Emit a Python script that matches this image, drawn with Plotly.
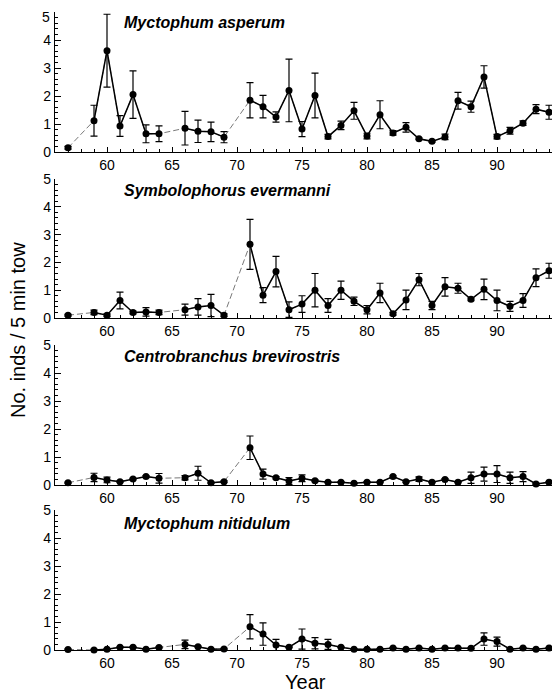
import plotly.graph_objects as go

years = [57, 59, 60, 61, 62, 63, 64, 66, 67, 68, 69, 71, 72, 73, 74, 75, 76, 77, 78, 79,
         80, 81, 82, 83, 84, 85, 86, 87, 88, 89, 90, 91, 92, 93, 94]

titles = ["Myctophum asperum", "Symbolophorus evermanni",
          "Centrobranchus brevirostris", "Myctophum nitidulum"]

y_ticks = [0, 1, 2, 3, 4, 5]
x_ticks = [60, 65, 70, 75, 80, 85, 90]

asperum = [0.15, 1.12, 3.62, 0.93, 2.05, 0.65, 0.65, 0.85, 0.74, 0.72, 0.53, 1.85, 1.62, 1.25,
           2.2, 0.82, 2.02, 0.55, 0.95, 1.47, 0.57, 1.33, 0.68, 0.88, 0.47, 0.38, 0.54, 1.83,
           1.62, 2.68, 0.55, 0.76, 1.03, 1.53, 1.42]
asperum_err = [0.05, 0.55, 1.3, 0.37, 0.85, 0.32, 0.28, 0.6, 0.4, 0.35, 0.2, 0.63, 0.4, 0.18,
               1.12, 0.27, 0.8, 0.08, 0.15, 0.3, 0.1, 0.5, 0.08, 0.17, 0.03, 0.03, 0.1, 0.3,
               0.2, 0.4, 0.08, 0.12, 0.08, 0.16, 0.25]

evermanni = [0.1, 0.2, 0.1, 0.63, 0.2, 0.22, 0.2, 0.3, 0.4, 0.45, 0.1, 2.65, 0.82, 1.67, 0.3,
             0.5, 1.0, 0.45, 1.0, 0.6, 0.3, 0.9, 0.15, 0.65, 1.38, 0.45, 1.12, 1.07, 0.67,
             1.03, 0.63, 0.42, 0.63, 1.45, 1.7]
evermanni_err = [0.03, 0.08, 0.05, 0.3, 0.05, 0.15, 0.08, 0.2, 0.3, 0.4, 0.05, 0.9, 0.27, 0.55,
                 0.28, 0.3, 0.6, 0.25, 0.33, 0.15, 0.15, 0.35, 0.05, 0.35, 0.22, 0.15, 0.33,
                 0.18, 0.05, 0.37, 0.37, 0.18, 0.25, 0.32, 0.27]

brevirostris = [0.08, 0.27, 0.18, 0.12, 0.21, 0.3, 0.24, 0.26, 0.42, 0.08, 0.12, 1.33, 0.39,
                0.26, 0.14, 0.24, 0.15, 0.1, 0.1, 0.06, 0.1, 0.1, 0.3, 0.12, 0.21, 0.1, 0.2,
                0.1, 0.26, 0.39, 0.39, 0.26, 0.3, 0.04, 0.1]
brevirostris_err = [0.02, 0.15, 0.1, 0.03, 0.03, 0.04, 0.17, 0.08, 0.25, 0.02, 0.03, 0.42,
                    0.18, 0.04, 0.12, 0.12, 0.03, 0.02, 0.02, 0.02, 0.02, 0.02, 0.03, 0.03,
                    0.08, 0.02, 0.03, 0.02, 0.2, 0.25, 0.3, 0.2, 0.18, 0.02, 0.02]

nitidulum = [0.02, 0.0, 0.03, 0.1, 0.1, 0.03, 0.09, 0.2, 0.12, 0.03, 0.04, 0.83, 0.57, 0.18,
             0.1, 0.39, 0.24, 0.2, 0.1, 0.03, 0.03, 0.03, 0.07, 0.03, 0.07, 0.03, 0.07, 0.07,
             0.06, 0.39, 0.3, 0.03, 0.07, 0.03, 0.07]
nitidulum_err = [0.02, 0.02, 0.02, 0.02, 0.02, 0.02, 0.02, 0.15, 0.02, 0.02, 0.02, 0.43, 0.4,
                 0.2, 0.02, 0.36, 0.2, 0.18, 0.02, 0.02, 0.02, 0.02, 0.02, 0.02, 0.02, 0.02,
                 0.02, 0.02, 0.02, 0.22, 0.16, 0.02, 0.02, 0.02, 0.02]

series = [(asperum, asperum_err), (evermanni, evermanni_err),
          (brevirostris, brevirostris_err), (nitidulum, nitidulum_err)]

# figure is placed by the page with an 8px body margin -> size it to fit the window
W, H, OFF = 544, 684, 8


def px_x(p):
    return (p - OFF) / W


def px_y(p):
    return 1 - (p - OFF) / H


# panel vertical extents in screen pixels (top, bottom)
panel_px = [(12, 152), (179, 318), (345, 485), (510, 650)]
domains = [(px_y(b), px_y(t)) for t, b in panel_px]
title_px = [22, 190, 357, 523]

FONT = "Liberation Sans, Arial, Helvetica, sans-serif"

fig = go.Figure()


def with_gaps(xs, ys):
    gx, gy = [], []
    for i, (x, y) in enumerate(zip(xs, ys)):
        if i > 0 and x - xs[i - 1] > 1:
            gx.append(None)
            gy.append(None)
        gx.append(x)
        gy.append(y)
    return gx, gy


for i, (vals, errs) in enumerate(series):
    xa = "x" if i == 0 else f"x{i+1}"
    ya = "y" if i == 0 else f"y{i+1}"
    # dashed connector across missing years
    fig.add_trace(go.Scatter(x=years, y=vals, mode="lines", xaxis=xa, yaxis=ya,
                             line=dict(color="#555555", width=0.8, dash="6px,3px"),
                             showlegend=False, hoverinfo="skip", cliponaxis=False))
    gx, gy = with_gaps(years, vals)
    fig.add_trace(go.Scatter(x=gx, y=gy, mode="lines", xaxis=xa, yaxis=ya,
                             line=dict(color="black", width=1.5),
                             connectgaps=False, showlegend=False, cliponaxis=False))
    fig.add_trace(go.Scatter(x=years, y=vals, mode="markers", xaxis=xa, yaxis=ya,
                             marker=dict(color="black", size=7),
                             error_y=dict(type="data", array=errs, visible=True,
                                          color="black", thickness=1.2, width=3.5),
                             showlegend=False, cliponaxis=False))

layout = dict(
    width=W, height=H,
    margin=dict(l=0, r=0, t=0, b=0),
    paper_bgcolor="white", plot_bgcolor="white",
    font=dict(family=FONT, size=14, color="black"),
    showlegend=False,
)

# x axis: 60 at screen px 107, 13 px per year; right edge of figure at screen 552
x_left = 60 - (107 - 55) / 13
x_right = 60 + (OFF + W - 107) / 13

for i in range(4):
    xk = "xaxis" if i == 0 else f"xaxis{i+1}"
    yk = "yaxis" if i == 0 else f"yaxis{i+1}"
    ya = "y" if i == 0 else f"y{i+1}"
    xa = "x" if i == 0 else f"x{i+1}"
    # top panel: the "5" label sits at the very top edge, drawn as annotation below
    ytext = [str(v) if not (i == 0 and v == y_ticks[-1]) else "" for v in y_ticks]
    layout[xk] = dict(
        domain=[px_x(55), 1.0], range=[x_left, x_right], anchor=ya, automargin=False,
        showline=True, linecolor="black", linewidth=1.2, showgrid=False, zeroline=False,
        ticks="inside", ticklen=5, tickcolor="black", tickwidth=1,
        tickvals=x_ticks, ticklabeloverflow="allow",
        minor=dict(ticks="inside", ticklen=3, tickcolor="black", dtick=1, tick0=56, showgrid=False),
        tickfont=dict(family=FONT, size=14, color="black"),
    )
    layout[yk] = dict(
        domain=list(domains[i]), range=[0, 5], anchor=xa, automargin=False,
        showline=True, linecolor="black", linewidth=1.2, showgrid=False, zeroline=False,
        ticks="inside", ticklen=6, tickcolor="black", tickwidth=1,
        tickvals=y_ticks, ticktext=ytext, ticklabeloverflow="allow",
        minor=dict(ticks="inside", ticklen=3, tickcolor="black", dtick=0.2, tick0=0, showgrid=False),
        tickfont=dict(family=FONT, size=14, color="black"),
    )

annotations = []
annotations.append(dict(text=str(y_ticks[-1]), x=px_x(51), y=1.0, xref="paper", yref="paper",
                        xanchor="right", yanchor="top", showarrow=False, borderpad=0,
                        font=dict(family=FONT, size=14, color="black")))
for i, t in enumerate(titles):
    annotations.append(dict(text=f"<b><i>{t}</i></b>", x=px_x(122), y=px_y(title_px[i]),
                            xref="paper", yref="paper", xanchor="left", yanchor="middle",
                            showarrow=False, font=dict(family=FONT, size=16, color="black")))
annotations.append(dict(text="No. inds / 5 min tow", x=px_x(18), y=px_y(330),
                        xref="paper", yref="paper", xanchor="center", yanchor="middle",
                        textangle=-90, showarrow=False,
                        font=dict(family=FONT, size=20, color="black")))
annotations.append(dict(text="Year", x=px_x(305), y=px_y(682),
                        xref="paper", yref="paper", xanchor="center", yanchor="middle",
                        showarrow=False, font=dict(family=FONT, size=20, color="black")))
layout["annotations"] = annotations

fig.update_layout(**layout)
fig.write_html("out.html")
